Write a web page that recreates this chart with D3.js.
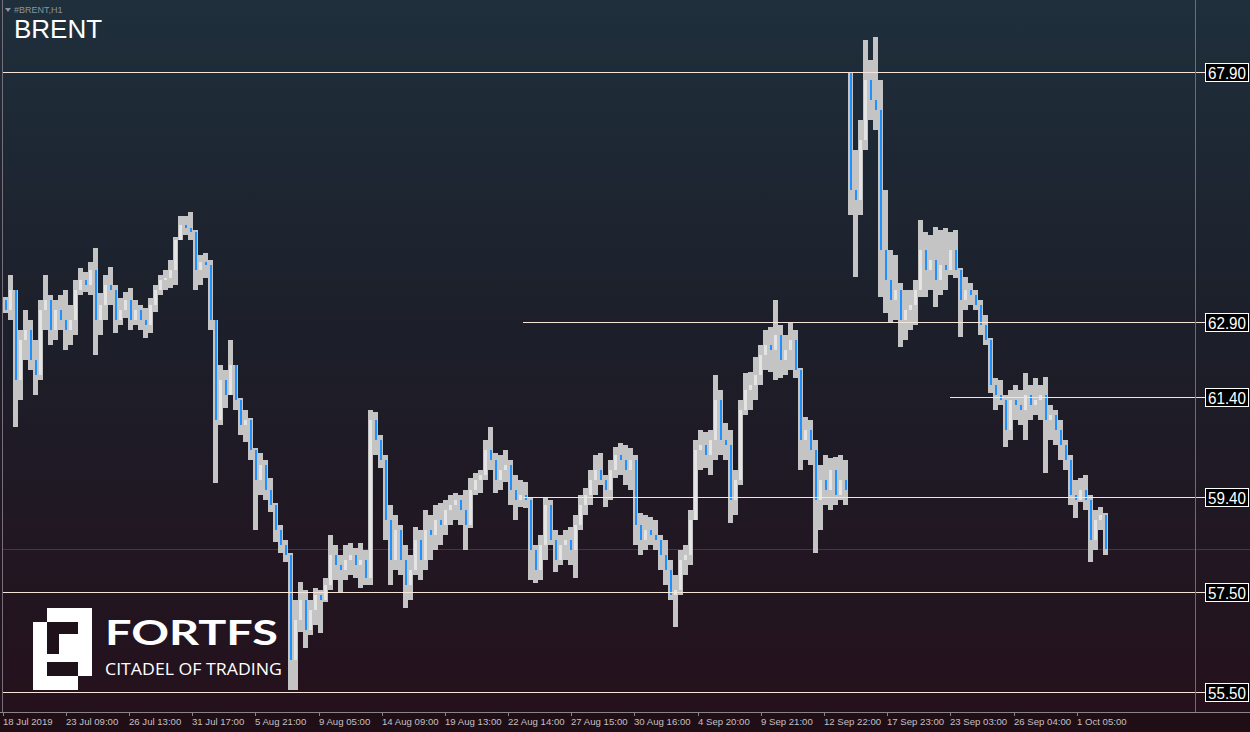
<!DOCTYPE html>
<html><head><meta charset="utf-8">
<script src="https://cdn.jsdelivr.net/npm/d3@7"></script>
<style>body{margin:0;background:#000}svg{display:block}</style>
</head><body>
<svg id="c" width="1250" height="732"></svg>
<script>
const candles = [
[63.34,63.40,63.08,63.14],[63.14,63.84,62.94,63.54],[63.54,63.54,60.80,61.74],[61.74,62.74,61.34,62.54],[62.54,63.14,62.14,62.74],
[62.74,62.94,61.94,62.14],[62.14,62.54,61.44,61.84],[61.84,63.34,61.74,63.14],[63.14,63.84,62.74,63.34],[63.34,63.44,62.44,62.74],
[62.74,63.34,62.54,63.14],[63.14,63.44,62.74,62.94],[62.94,63.54,62.34,62.74],[62.74,63.24,62.44,62.94],[62.94,63.74,62.64,63.54],
[63.54,63.98,63.44,63.74],[63.74,63.90,63.50,63.64],[63.64,64.10,63.44,63.94],[63.94,64.38,62.24,62.94],[62.94,63.48,62.64,63.24],
[63.24,63.84,62.94,63.64],[63.64,64.00,63.24,63.54],[63.54,63.64,62.68,62.94],[62.94,63.38,62.84,63.14],[63.14,63.50,62.98,63.34],
[63.34,63.58,62.74,62.94],[62.94,63.34,62.84,63.14],[63.14,63.24,62.74,62.94],[62.94,63.18,62.58,62.84],[62.84,63.38,62.68,63.24],
[63.24,63.64,63.10,63.54],[63.54,63.84,63.44,63.74],[63.74,63.94,63.54,63.78],[63.78,64.14,63.58,63.94],[63.94,64.60,63.64,64.54],
[64.54,65.02,64.54,64.84],[64.84,65.02,64.64,64.78],[64.78,65.10,64.54,64.70],[64.70,64.74,63.54,63.94],[63.94,64.24,63.64,64.10],
[64.10,64.28,63.78,64.04],[64.04,64.14,62.74,62.94],[62.94,62.94,59.68,60.94],[60.94,62.04,60.84,61.74],[61.74,61.94,61.18,61.44],
[61.44,62.54,61.44,62.04],[62.04,62.04,61.14,61.34],[61.34,61.38,60.64,60.84],[60.84,61.14,60.50,60.94],[60.94,60.98,60.14,60.34],
[60.34,60.38,58.74,59.74],[59.74,60.28,59.44,60.04],[60.04,60.14,59.34,59.54],[59.54,59.78,59.10,59.24],[59.24,59.28,58.50,58.74],
[58.74,58.84,58.28,58.44],[58.44,58.54,58.10,58.24],[58.24,58.28,55.54,56.14],[56.14,57.34,55.54,56.94],[56.94,57.70,56.70,57.34],
[57.34,57.54,56.38,56.74],[56.74,57.34,56.64,57.14],[57.14,57.58,56.84,57.44],[57.44,57.54,56.68,57.34],[57.34,57.78,57.30,57.64],
[57.64,58.64,57.54,58.24],[58.24,58.44,57.74,58.04],[58.04,58.24,57.50,57.94],[57.94,58.44,57.74,58.14],[58.14,58.48,57.84,58.24],
[58.24,58.38,57.78,58.04],[58.04,58.48,57.58,58.14],[58.14,58.34,57.64,57.78],[57.78,61.14,57.64,60.94],[60.94,61.10,60.24,60.54],
[60.54,60.64,59.98,60.14],[60.14,60.24,58.54,58.94],[58.94,59.24,57.64,58.14],[58.14,59.04,57.94,58.74],[58.74,58.84,57.84,58.14],
[58.14,58.44,57.18,57.64],[57.64,58.24,57.34,57.94],[57.94,58.80,57.84,58.54],[58.54,58.74,57.74,58.14],[58.14,59.14,57.94,58.74],
[58.74,59.04,58.14,58.64],[58.64,59.24,58.34,58.94],[58.94,59.28,58.44,58.84],[58.84,59.34,58.64,59.14],[59.14,59.44,58.84,59.24],
[59.24,59.48,58.94,59.34],[59.34,59.44,58.84,59.14],[59.14,59.54,58.34,58.84],[58.84,59.78,58.78,59.54],[59.54,59.88,59.44,59.74],
[59.74,59.94,59.48,59.84],[59.84,60.54,59.74,60.34],[60.34,60.80,59.94,60.14],[60.14,60.28,59.48,59.74],[59.74,60.24,59.54,59.94],
[59.94,60.34,59.70,60.04],[60.04,60.14,59.24,59.54],[59.54,59.84,58.94,59.34],[59.34,59.74,59.20,59.44],[59.44,59.70,59.18,59.34],
[59.34,59.40,57.74,58.34],[58.34,58.44,57.68,57.94],[57.94,58.64,57.74,58.44],[58.44,59.40,58.14,59.24],[59.24,59.34,58.44,58.54],
[58.54,58.74,57.90,58.14],[58.14,58.64,58.04,58.44],[58.44,58.74,58.14,58.54],[58.54,58.80,58.04,58.34],[58.34,59.04,57.78,58.84],
[58.84,59.44,58.74,59.24],[59.24,59.58,59.04,59.44],[59.44,59.94,59.24,59.74],[59.74,60.24,59.44,59.94],[59.94,60.28,59.64,59.74],
[59.74,59.84,59.20,59.54],[59.54,60.14,59.34,59.94],[59.94,60.40,59.78,60.24],[60.24,60.48,59.84,60.14],[60.14,60.44,59.64,59.94],
[59.94,60.38,59.54,60.14],[60.14,60.24,58.44,58.84],[58.84,59.08,58.24,58.54],[58.54,59.04,58.34,58.74],[58.74,59.00,58.44,58.64],
[58.64,58.94,58.34,58.54],[58.54,58.64,57.94,58.24],[58.24,58.54,57.64,57.94],[57.94,58.14,57.34,57.44],[57.44,57.84,56.80,57.54],
[57.54,58.34,57.44,58.14],[58.14,58.44,57.84,58.24],[58.24,59.14,58.04,58.94],[58.94,60.54,58.94,60.34],[60.34,60.74,59.94,60.44],
[60.44,60.70,59.98,60.24],[60.24,60.74,59.84,60.54],[60.54,61.84,60.14,61.34],[61.34,61.54,60.24,60.54],[60.54,60.88,60.14,60.44],
[60.44,60.74,58.88,59.34],[59.34,59.94,59.04,59.74],[59.74,61.34,59.64,61.14],[61.14,61.88,61.04,61.54],[61.54,61.90,61.14,61.64],
[61.64,62.20,61.34,61.84],[61.84,62.44,61.64,62.24],[62.24,62.74,61.94,62.44],[62.44,62.80,61.90,62.34],[62.34,63.34,61.74,62.64],
[62.64,62.84,61.78,62.14],[62.14,62.64,61.84,62.34],[62.34,62.88,61.94,62.54],[62.54,62.74,61.78,61.94],[61.94,61.98,59.94,60.54],
[60.54,61.00,60.14,60.74],[60.74,60.94,60.04,60.34],[60.34,60.54,58.28,59.34],[59.34,60.04,58.74,59.74],[59.74,60.24,59.24,59.54],
[59.54,60.18,59.14,59.94],[59.94,60.20,59.24,59.44],[59.44,60.24,59.34,59.74],[59.74,60.14,59.24,59.54],[67.90,67.90,65.04,65.54],
[65.54,66.34,63.80,65.34],[65.34,66.94,65.04,66.54],[66.54,68.54,66.34,67.74],[67.74,68.14,66.94,67.34],[67.34,68.60,66.74,67.14],
[67.14,67.74,63.40,64.34],[64.34,65.54,63.08,63.74],[63.74,64.34,62.88,63.34],[63.34,64.24,62.94,63.54],[63.54,63.68,62.40,62.94],
[62.94,63.54,62.54,63.14],[63.14,63.54,62.74,63.24],[63.24,63.74,62.84,63.54],[63.54,64.94,63.40,64.34],[64.34,64.70,63.40,63.94],
[63.94,64.64,63.54,64.14],[64.14,64.80,63.20,63.74],[63.74,64.74,63.44,64.04],[64.04,64.78,63.54,63.94],[63.94,64.70,63.84,64.34],
[64.34,64.74,63.78,63.94],[63.94,63.98,62.60,63.34],[63.34,63.80,63.14,63.54],[63.54,63.68,63.24,63.44],[63.44,63.54,63.14,63.24],
[63.24,63.34,62.64,62.84],[62.84,63.04,62.44,62.54],[62.54,62.58,61.48,61.64],[61.64,61.78,61.14,61.44],[61.44,61.74,61.24,61.34],
[61.34,61.44,60.40,60.74],[60.74,61.54,60.54,61.34],[61.34,61.64,60.94,61.24],[61.24,61.54,60.84,61.14],[61.14,61.88,60.54,61.44],
[61.44,61.64,60.94,61.24],[61.24,61.78,61.04,61.34],[61.34,61.64,60.94,61.44],[61.44,61.80,59.88,60.94],[60.94,61.24,60.54,61.04],
[61.04,61.14,60.44,60.74],[60.74,60.94,60.14,60.44],[60.44,60.54,59.94,60.14],[60.14,60.24,59.24,59.44],[59.44,59.74,58.98,59.34],
[59.34,59.78,59.30,59.54],[59.54,59.84,59.14,59.34],[59.34,59.44,58.10,58.54],[58.54,59.14,58.34,58.94],[58.94,59.20,58.74,59.04],
[59.04,59.08,58.24,58.36]
];
const levels = [67.90, 62.90, 61.40, 59.40, 57.50, 55.50];
const levelLabels = ["67.90", "62.90", "61.40", "59.40", "57.50", "55.50"];
const levelStartCandle = [null, 104, 189.4, 104, null, null]; // null = whole width
const bidPrice = 58.36;
const timeLabels = ["18 Jul 2019","23 Jul 09:00","26 Jul 13:00","31 Jul 17:00","5 Aug 21:00","9 Aug 05:00",
  "14 Aug 09:00","19 Aug 13:00","22 Aug 14:00","27 Aug 15:00","30 Aug 16:00","4 Sep 20:00","9 Sep 21:00",
  "12 Sep 22:00","17 Sep 23:00","23 Sep 03:00","26 Sep 04:00","1 Oct 05:00"];
const symbolTitle = "#BRENT,H1";
const chartName = "BRENT";

const W = 1250, H = 732;
const plotL = 2, plotR = 1195, plotB = 712;
const svg = d3.select("#c");
const defs = svg.append("defs");
const g = defs.append("linearGradient").attr("id","bg").attr("x1",0).attr("y1",0).attr("x2",0).attr("y2",1);
g.append("stop").attr("offset","0%").attr("stop-color","#1f2f3c");
g.append("stop").attr("offset","45%").attr("stop-color","#1c1f2a");
g.append("stop").attr("offset","100%").attr("stop-color","#25101b");
svg.append("rect").attr("width",W).attr("height",H).attr("fill","url(#bg)");
svg.append("rect").attr("x",0).attr("y",plotB).attr("width",W).attr("height",H-plotB).attr("fill","#1f0e16");

const y = d3.scaleLinear().domain([55.50, 67.90]).range([691.5, 71.5]);
const x = d3.scaleLinear().domain([0, candles.length]).range([3, 3 + 5 * candles.length]);
const xt = d3.scaleLinear().domain([0, timeLabels.length - 1]).range([2.7, 1076.7]);

// bid line
svg.append("line").attr("x1",plotL).attr("x2",W).attr("y1",Math.round(y(bidPrice))+0.5).attr("y2",Math.round(y(bidPrice))+0.5)
  .attr("stroke","#3d3a40").attr("stroke-width",1);

// logo
const logo = svg.append("g").attr("fill","#ffffff");
logo.append("rect").attr("x",47).attr("y",608).attr("width",45).attr("height",68);
logo.append("rect").attr("x",33).attr("y",622).attr("width",45).attr("height",68);
const cut = svg.append("g").attr("fill","#1f1119");
cut.append("rect").attr("x",47).attr("y",622).attr("width",31).attr("height",12);
cut.append("rect").attr("x",47).attr("y",634).attr("width",12).attr("height",20);
cut.append("rect").attr("x",59).attr("y",662).attr("width",19).attr("height",14);
cut.append("rect").attr("x",47).attr("y",662).attr("width",12).attr("height",14);
svg.append("text").attr("x",105).attr("y",645).attr("fill","#fff").attr("font-family","Lato, 'Open Sans', sans-serif")
  .attr("font-weight",700).attr("font-size",35).attr("textLength",173).attr("lengthAdjust","spacingAndGlyphs").text("FORTFS");
svg.append("text").attr("x",105).attr("y",675).attr("fill","#fff").attr("font-family","'Open Sans', Lato, sans-serif")
  .attr("font-size",17).attr("textLength",177).attr("lengthAdjust","spacingAndGlyphs").text("CITADEL OF TRADING");

// candles
const cg = svg.append("g").attr("shape-rendering","crispEdges");
candles.forEach((d, i) => {
  const [o, h, l, c] = d;
  const x0 = x(i);
  cg.append("rect").attr("x", x0).attr("width", 5).attr("y", y(h)).attr("height", Math.max(1, y(l) - y(h))).attr("fill", "#c4c4c4");
  const top = y(Math.max(o, c)), bot = y(Math.min(o, c));
  if (c < o) {
    cg.append("rect").attr("x", x0 + 2).attr("width", 2).attr("y", top).attr("height", Math.max(1, bot - top)).attr("fill", "#1e90ff");
  } else {
    cg.append("rect").attr("x", x0 + 1).attr("width", 3).attr("y", top).attr("height", Math.max(1, bot - top)).attr("fill", "#e4e4e4");
  }
});

// level lines and labels
levels.forEach((p, k) => {
  const yy = Math.round(y(p)) + 0.5;
  const xs = levelStartCandle[k] == null ? plotL : x(levelStartCandle[k]);
  svg.append("line").attr("x1", xs).attr("x2", 1205).attr("y1", yy).attr("y2", yy).attr("stroke", "#f4e4da").attr("stroke-width", 1);
});

// right blue border line
svg.append("line").attr("x1",plotR+0.5).attr("x2",plotR+0.5).attr("y1",0).attr("y2",plotB).attr("stroke","#2b7fc4").attr("stroke-width",1);

levels.forEach((p, k) => {
  const yy = Math.round(y(p)) + 0.5;
  svg.append("rect").attr("x", 1205.5).attr("y", yy - 9).attr("width", 43).attr("height", 18).attr("fill", "#000").attr("stroke", "#fff").attr("stroke-width", 1);
  svg.append("text").attr("x", 1208).attr("y", yy + 6.5).attr("fill", "#fff").attr("font-family", "'Liberation Sans', Arial, sans-serif")
    .attr("font-size", 16.5).attr("textLength", 38).attr("lengthAdjust", "spacingAndGlyphs").text(levelLabels[k]);
});

// frame
svg.append("line").attr("x1",plotL+0.5).attr("x2",plotL+0.5).attr("y1",0).attr("y2",plotB).attr("stroke","#77707a");
svg.append("line").attr("x1",0).attr("x2",W).attr("y1",plotB+0.5).attr("y2",plotB+0.5).attr("stroke","#8a8488");

// time axis
timeLabels.forEach((t, k) => {
  const xx = Math.round(xt(k)) + 0.5;
  svg.append("line").attr("x1", xx).attr("x2", xx).attr("y1", plotB).attr("y2", plotB + 4).attr("stroke", "#8a8488");
  svg.append("text").attr("x", xx - 0.5).attr("y", 725).attr("fill", "#c4c0c4").attr("font-family", "'Liberation Sans', Arial, sans-serif")
    .attr("font-size", 9.6).text(t);
});

// titles
svg.append("path").attr("d","M5,8 L11,8 L8,12 Z").attr("fill","#8a939c");
svg.append("text").attr("x",14).attr("y",12.5).attr("fill","#8a939c").attr("font-family","'Liberation Sans', Arial, sans-serif").attr("font-size",9).text(symbolTitle);
svg.append("text").attr("x",14).attr("y",38).attr("fill","#fff").attr("font-family","'Liberation Sans', Arial, sans-serif").attr("font-size",26).text(chartName);
</script>
</body></html>
